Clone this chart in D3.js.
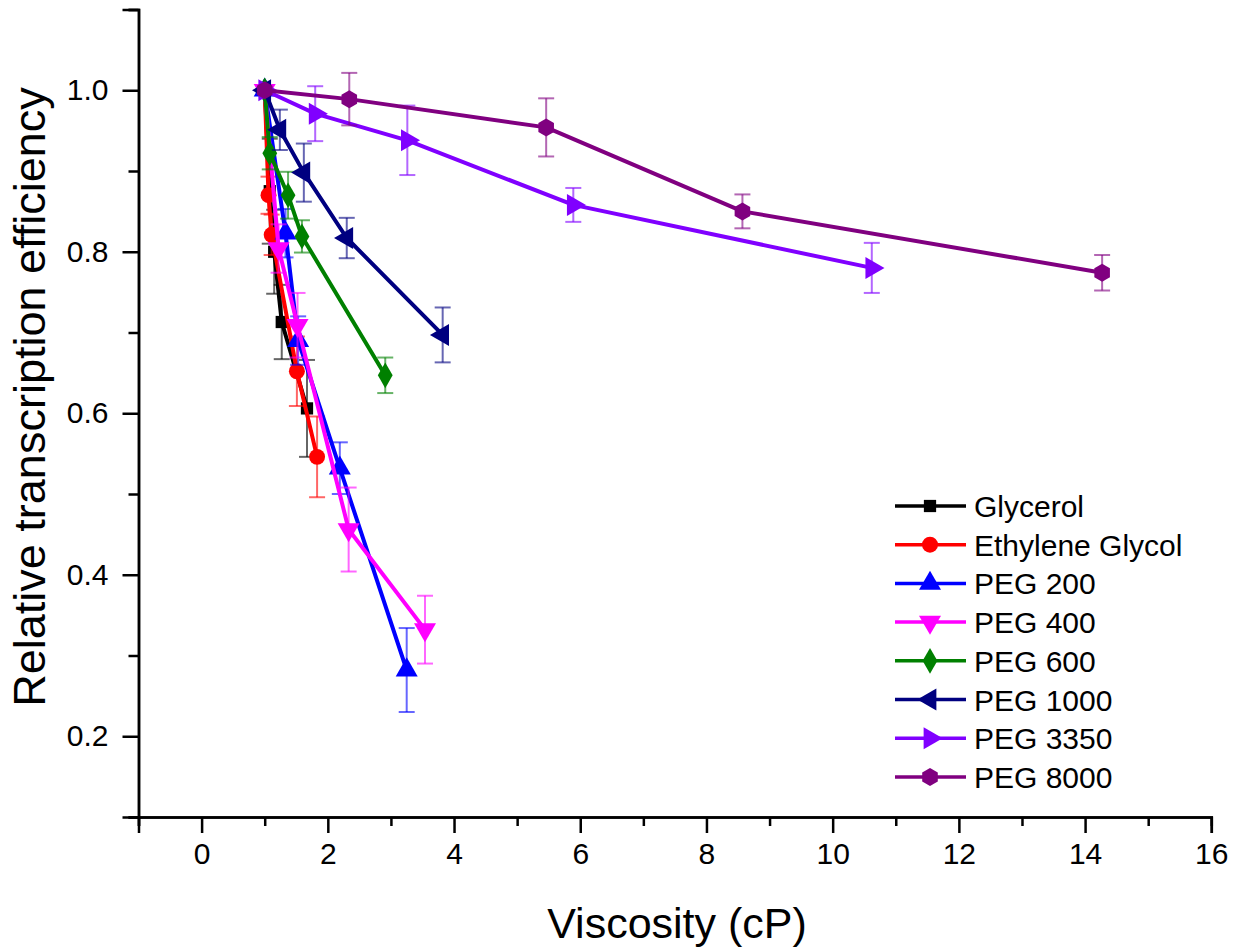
<!DOCTYPE html>
<html>
<head>
<meta charset="utf-8">
<script src="https://cdn.jsdelivr.net/npm/d3@7"></script>
<style>
body{margin:0;background:#fff;}
text{font-family:"Liberation Sans",Arial,sans-serif;fill:#000;}
</style>
</head>
<body>
<svg width="1242" height="948"></svg>
<script>
// series names, colours and marker shapes
var names=["Glycerol","Ethylene Glycol","PEG 200","PEG 400","PEG 600","PEG 1000","PEG 3350","PEG 8000"]
var colors=["#000000","#ff0000","#0000ff","#ff00ff","#008000","#000080","#8000ff","#800080"]
var shapes=["square","circle","up","down","diamond","left","right","hexagon"]

// viscosity (cP) for each series
var xGlycerol=[1,1.08,1.15,1.27,1.67]
var xEthylene=[1,1.06,1.11,1.51,1.83]
var xPeg200=[1,1.33,1.53,2.19,3.25]
var xPeg400=[1,1.22,1.52,2.33,3.54]
var xPeg600=[1,1.08,1.37,1.59,2.91]
var xPeg1000=[1,1.24,1.62,2.30,3.82]
var xPeg3350=[1,1.80,3.26,5.89,10.62]
var xPeg8000=[1,2.34,5.46,8.57,14.27]

// relative transcription efficiency
var yGlycerol=[1,0.875,0.80,0.713,0.606]
var yEthylene=[1,0.870,0.821,0.652,0.546]
var yPeg200=[1,0.823,0.69,0.532,0.282]
var yPeg400=[1,0.804,0.709,0.456,0.332]
var yPeg600=[1,0.922,0.870,0.819,0.647]
var yPeg1000=[1,0.951,0.898,0.817,0.697]
var yPeg3350=[1,0.971,0.938,0.858,0.780]
var yPeg8000=[1,0.989,0.954,0.850,0.774]

// error bar half heights
var eGlycerol=[0,0.065,0.052,0.046,0.06]
var eEthylene=[0,0.023,0.025,0.043,0.05]
var ePeg200=[0,0.03,0.03,0.032,0.052]
var ePeg400=[0,0.03,0.04,0.052,0.042]
var ePeg600=[0,0.02,0.029,0.02,0.022]
var ePeg1000=[0,0.025,0.036,0.025,0.034]
var ePeg3350=[0,0.034,0.043,0.021,0.031]
var ePeg8000=[0,0.0325,0.036,0.021,0.022]

var xTicks=[0,2,4,6,8,10,12,14,16]
var xMinor=[-1,1,3,5,7,9,11,13,15]
var yTicks=[0.2,0.4,0.6,0.8,1.0]
var yMinor=[0.1,0.3,0.5,0.7,0.9,1.1]

var xs=[xGlycerol,xEthylene,xPeg200,xPeg400,xPeg600,xPeg1000,xPeg3350,xPeg8000]
var ys=[yGlycerol,yEthylene,yPeg200,yPeg400,yPeg600,yPeg1000,yPeg3350,yPeg8000]
var es=[eGlycerol,eEthylene,ePeg200,ePeg400,ePeg600,ePeg1000,ePeg3350,ePeg8000]

var series=names.map(function(n,i){
  return {name:n,color:colors[i],shape:shapes[i],
    points:xs[i].map(function(x,j){return {x:x,y:ys[i][j],e:es[i][j]}})}
})

var svg=d3.select("svg")
var x=d3.scaleLinear().domain([-1,16]).range([138.5,1211.3])
var y=d3.scaleLinear().domain([0.1,1.1]).range([817,9.5])

var hexPath=function(r){
  var pts=d3.range(6).map(function(k){var a=Math.PI/6+k*Math.PI/3;return [r*Math.cos(a),r*Math.sin(a)]})
  return "M"+pts.join("L")+"Z"
}
var markerPath=function(shape){
  if(shape=="square") return d3.symbol(d3.symbolSquare,150)()
  if(shape=="circle") return d3.symbol(d3.symbolCircle,200)()
  if(shape=="diamond") return d3.symbol(d3.symbolDiamond,190)()
  if(shape=="hexagon") return hexPath(9)
  return d3.symbol(d3.symbolTriangle,210)()
}
var markerRot={up:0,down:180,left:-90,right:90}

// axes
svg.append("g").attr("class","ax")
   .attr("transform","translate(0,"+y(0.1)+")")
   .call(d3.axisBottom(x).tickValues(xTicks).tickSize(16).tickPadding(10).tickFormat(d3.format("d")))
svg.append("g").attr("class","ax")
   .attr("transform","translate(0,"+y(0.1)+")")
   .call(d3.axisBottom(x).tickValues(xMinor).tickSize(9).tickFormat(""))
svg.append("g").attr("class","ax")
   .attr("transform","translate("+x(-1)+",0)")
   .call(d3.axisLeft(y).tickValues(yTicks).tickSize(16).tickPadding(14).tickFormat(d3.format(".1f")))
svg.append("g").attr("class","ax")
   .attr("transform","translate("+x(-1)+",0)")
   .call(d3.axisLeft(y).tickValues(yMinor).tickSize(10).tickFormat(""))
svg.selectAll(".ax path").attr("stroke","#000").attr("stroke-width",2.5)
svg.selectAll(".ax line").attr("stroke","#000").attr("stroke-width",2.5)
svg.selectAll(".ax text").style("font-size","30px").style("font-family","Liberation Sans, Arial, sans-serif")

svg.append("text").text("Viscosity (cP)")
   .attr("x",677).attr("y",938).attr("text-anchor","middle").style("font-size","43px")
svg.append("text").text("Relative transcription efficiency")
   .attr("transform","translate(45,397) rotate(-90)").attr("text-anchor","middle").style("font-size","45px")

// data
var line=d3.line().x(function(d){return x(d.x)}).y(function(d){return y(d.y)})
series.forEach(function(s){
  var g=svg.append("g")
  g.append("path").attr("d",line(s.points)).attr("fill","none")
   .attr("stroke",s.color).attr("stroke-width",4).attr("stroke-linejoin","round")
  var eb=g.selectAll(".eb").data(s.points.filter(function(d){return d.e>0})).enter().append("g")
          .attr("stroke",s.color).attr("stroke-opacity",0.6).attr("stroke-width",2)
  eb.append("line").attr("x1",function(d){return x(d.x)}).attr("x2",function(d){return x(d.x)})
    .attr("y1",function(d){return y(d.y+d.e)}).attr("y2",function(d){return y(d.y-d.e)})
  eb.append("line").attr("x1",function(d){return x(d.x)-8}).attr("x2",function(d){return x(d.x)+8})
    .attr("y1",function(d){return y(d.y+d.e)}).attr("y2",function(d){return y(d.y+d.e)})
  eb.append("line").attr("x1",function(d){return x(d.x)-8}).attr("x2",function(d){return x(d.x)+8})
    .attr("y1",function(d){return y(d.y-d.e)}).attr("y2",function(d){return y(d.y-d.e)})
  g.selectAll(".mk").data(s.points).enter().append("path")
   .attr("d",markerPath(s.shape)).attr("fill",s.color)
   .attr("transform",function(d){return "translate("+x(d.x)+","+y(d.y)+") rotate("+(markerRot[s.shape]||0)+")"})
})

// legend
var leg=svg.append("g").selectAll("g").data(series).enter().append("g")
           .attr("transform",function(d,i){return "translate(895,"+(506+i*38.7)+")"})
leg.append("line").attr("x1",0).attr("x2",71).attr("stroke",function(d){return d.color}).attr("stroke-width",3.5)
leg.append("path").attr("d",function(d){return markerPath(d.shape)}).attr("fill",function(d){return d.color})
   .attr("transform",function(d){return "translate(35,0) rotate("+(markerRot[d.shape]||0)+")"})
leg.append("text").text(function(d){return d.name}).attr("x",79).attr("y",11).style("font-size","30px")
</script>
</body>
</html>
